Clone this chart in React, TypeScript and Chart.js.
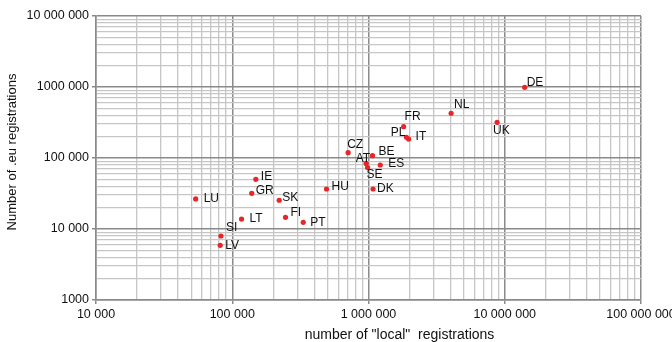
import React, { useEffect, useRef } from "react";
import { Chart, registerables } from "chart.js";

Chart.register(...registerables);

const countries = ["DE", "NL", "UK", "FR", "PL", "IT", "CZ", "BE", "AT", "SE", "ES", "DK", "HU", "IE", "GR", "LU", "SK", "FI", "PT", "LT", "SI", "LV"];
const localRegs = [14000000, 4040000, 8790000, 1810000, 1900000, 1970000, 709000, 1070000, 961000, 984000, 1220000, 1080000, 492000, 149000, 139000, 53900, 221000, 246000, 332000, 117000, 82600, 81600];
const euRegs = [990000, 427000, 318000, 276000, 196000, 185000, 119000, 108000, 84000, 73500, 79700, 36600, 36600, 50100, 31800, 26500, 25400, 14600, 12400, 13800, 7970, 5890];

const xTickValues = [10000, 100000, 1000000, 10000000, 100000000];
const xTickLabels = ["10 000", "100 000", "1 000 000", "10 000 000", "100 000 000"];
const yTickValues = [1000, 10000, 100000, 1000000, 10000000];
const yTickLabels = ["1000", "10 000", "100 000", "1000 000", "10 000 000"];

const xTitle = 'number of "local"  registrations';
const yTitle = "Number of .eu registrations";

// label placement style: [dx, dy, align]
const labelPlacement: Record<string, [number, number, CanvasTextAlign]> = {
  DE: [2, -5, "left"],
  NL: [3, -9, "left"],
  UK: [-4, 8, "left"],
  FR: [1, -10, "left"],
  PL: [-1, -5, "right"],
  IT: [7, -2, "left"],
  CZ: [-1, -8, "left"],
  BE: [6, -4, "left"],
  AT: [4, -5, "right"],
  SE: [-1, 7, "left"],
  ES: [8, -1, "left"],
  DK: [4, 0, "left"],
  HU: [5, -2, "left"],
  IE: [5, -3, "left"],
  GR: [4, -3, "left"],
  LU: [8, 0, "left"],
  SK: [3, -3, "left"],
  FI: [5, -5, "left"],
  PT: [7, 0, "left"],
  LT: [8, 0, "left"],
  SI: [5, -8, "left"],
  LV: [5, 0, "left"],
};

const FONT = "'Liberation Sans', Arial, sans-serif";

function logTicks(min: number, max: number) {
  const out: { value: number }[] = [];
  for (let e = Math.log10(min); e < Math.log10(max); e++) {
    for (let m = 1; m <= 9; m++) out.push({ value: m * Math.pow(10, e) });
  }
  out.push({ value: max });
  return out;
}

const isMajor = (v: number) => Math.abs(Math.log10(v) - Math.round(Math.log10(v))) < 1e-9;

const labelPlugin = {
  id: "pointLabels",
  afterDatasetsDraw(chart: any) {
    const ctx = chart.ctx;
    const meta = chart.getDatasetMeta(0);
    ctx.save();
    ctx.font = `12px ${FONT}`;
    ctx.fillStyle = "#111";
    ctx.textBaseline = "middle";
    meta.data.forEach((pt: any, i: number) => {
      const name = countries[i];
      const [dx, dy, align] = labelPlacement[name] || [5, 0, "left"];
      ctx.textAlign = align;
      ctx.fillText(name, pt.x + dx, pt.y + dy);
    });
    ctx.restore();
  },
};

const titlePlugin = {
  id: "axisTitles",
  afterDraw(chart: any) {
    const ctx = chart.ctx;
    const a = chart.chartArea;
    ctx.save();
    ctx.fillStyle = "#111";
    ctx.textAlign = "center";
    ctx.textBaseline = "middle";
    ctx.font = `14px ${FONT}`;
    ctx.fillText(xTitle, a.left + (a.right - a.left) * 0.5 + 31, 335);
    ctx.font = `13px ${FONT}`;
    ctx.translate(12, (a.top + a.bottom) / 2 - 6);
    ctx.rotate(-Math.PI / 2);
    ctx.fillText(yTitle, 0, 0);
    ctx.restore();
  },
};

export default function App() {
  const ref = useRef<HTMLCanvasElement>(null);
  useEffect(() => {
    document.body.style.margin = "0";
    const gridColor = (c: any) => (c.tick && isMajor(c.tick.value) ? "#8a8a8a" : "#c6c6c6");
    const gridWidth = (c: any) => (c.tick && isMajor(c.tick.value) ? 1.5 : 1.3);
    const tickColor = (c: any) => (c.tick && isMajor(c.tick.value) ? "#8a8a8a" : "rgba(0,0,0,0)");
    const zeroPad = (s: any) => {
      s.paddingLeft = 0;
      s.paddingRight = 0;
      s.paddingTop = 0;
      s.paddingBottom = 0;
    };
    const chart = new Chart(ref.current!, {
      type: "scatter",
      data: {
        datasets: [
          {
            data: localRegs.map((x, i) => ({ x, y: euRegs[i] })),
            backgroundColor: "#e8262a",
            borderColor: "#e8262a",
            pointRadius: 2.6,
            borderWidth: 0,
          },
        ],
      },
      options: {
        animation: false,
        responsive: false,
        layout: { padding: { left: 0, top: 16, right: 31, bottom: 0 } },
        plugins: { legend: { display: false }, tooltip: { enabled: false } },
        scales: {
          x: {
            type: "logarithmic",
            min: 10000,
            max: 100000000,
            afterBuildTicks: (s: any) => {
              s.ticks = logTicks(10000, 100000000);
            },
            afterFit: (s: any) => {
              s.height = 42;
              zeroPad(s);
            },
            grid: { color: gridColor, lineWidth: gridWidth, tickColor, tickLength: 4, drawTicks: true },
            border: { display: true, color: "#8a8a8a", width: 1.5 },
            ticks: {
              autoSkip: false,
              maxRotation: 0,
              padding: 3,
              color: "#111",
              font: { family: FONT, size: 12.5 },
              callback: (v: any) => {
                const idx = xTickValues.findIndex((t) => Math.abs(t - Number(v)) / t < 1e-9);
                return idx >= 0 ? xTickLabels[idx] : "";
              },
            },
          },
          y: {
            type: "logarithmic",
            min: 1000,
            max: 10000000,
            afterBuildTicks: (s: any) => {
              s.ticks = logTicks(1000, 10000000);
            },
            afterFit: (s: any) => {
              s.width = 96;
              zeroPad(s);
            },
            grid: { color: gridColor, lineWidth: gridWidth, tickColor, tickLength: 4, drawTicks: true },
            border: { display: true, color: "#8a8a8a", width: 1.5 },
            ticks: {
              autoSkip: false,
              padding: 3,
              color: "#111",
              font: { family: FONT, size: 12.5 },
              callback: (v: any) => {
                const idx = yTickValues.findIndex((t) => Math.abs(t - Number(v)) / t < 1e-9);
                return idx >= 0 ? yTickLabels[idx] : "";
              },
            },
          },
        },
      },
      plugins: [labelPlugin, titlePlugin],
    });
    return () => chart.destroy();
  }, []);
  return (
    <div style={{ position: "fixed", left: 0, top: 0, width: 672, height: 342, background: "#fff" }}>
      <canvas ref={ref} width={672} height={342} style={{ display: "block" }} />
    </div>
  );
}
